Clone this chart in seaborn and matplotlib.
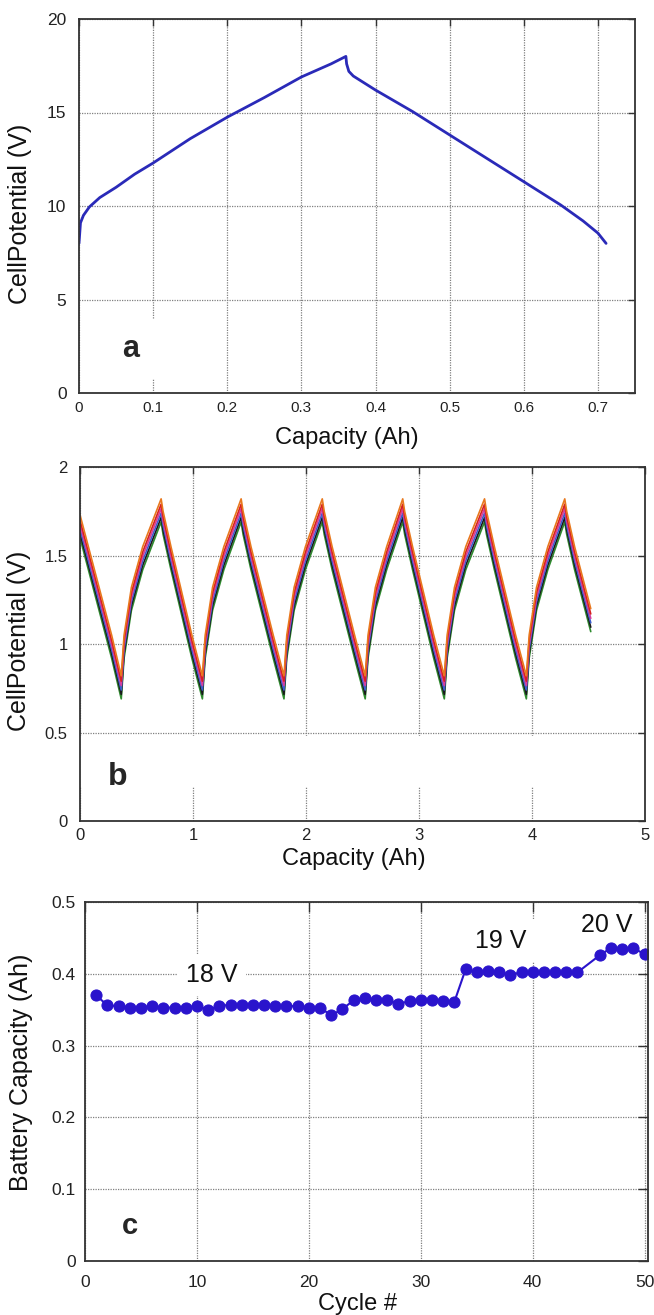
import numpy as np
import pandas as pd
import matplotlib
matplotlib.use("Agg")
import matplotlib.pyplot as plt
import seaborn as sns

# ---------------- data ----------------
# Panel a: single charge/discharge curve
cap_a = [0.000, 0.002, 0.006, 0.014, 0.028, 0.050, 0.075, 0.100, 0.150, 0.200,
         0.250, 0.300, 0.340, 0.360, 0.361, 0.364, 0.370, 0.400, 0.450, 0.500,
         0.550, 0.600, 0.650, 0.680, 0.700, 0.711]
volt_a = [8.0, 9.1, 9.5, 9.95, 10.45, 11.0, 11.7, 12.3, 13.6, 14.75,
          15.8, 16.9, 17.6, 18.0, 17.6, 17.2, 16.95, 16.2, 15.05, 13.8,
          12.55, 11.3, 10.05, 9.2, 8.55, 8.0]

# Panel b: repeated cycles (base trace) and offsets of the overlaid traces
cap_b = [0.000, 0.280, 0.365, 0.390, 0.455, 0.555, 0.718,
         0.735, 0.805, 0.990, 1.083, 1.108, 1.173, 1.273, 1.426,
         1.443, 1.513, 1.710, 1.805, 1.830, 1.895, 1.995, 2.144,
         2.161, 2.231, 2.430, 2.524, 2.549, 2.614, 2.714, 2.856,
         2.873, 2.943, 3.130, 3.224, 3.249, 3.314, 3.414, 3.580,
         3.597, 3.667, 3.855, 3.950, 3.975, 4.040, 4.140, 4.290,
         4.307, 4.377, 4.520]
volt_b = [1.68, 1.00, 0.77, 1.00, 1.27, 1.50, 1.77,
          1.70, 1.50, 1.00, 0.77, 1.00, 1.27, 1.50, 1.77,
          1.70, 1.50, 1.00, 0.77, 1.00, 1.27, 1.50, 1.77,
          1.70, 1.50, 1.00, 0.77, 1.00, 1.27, 1.50, 1.77,
          1.70, 1.50, 1.00, 0.77, 1.00, 1.27, 1.50, 1.77,
          1.70, 1.50, 1.00, 0.77, 1.00, 1.27, 1.50, 1.77,
          1.70, 1.50, 1.15]
trace_names = ["t1", "t2", "t3", "t4", "t5", "t6"]
trace_shift = [-0.08, -0.055, -0.03, -0.005, 0.02, 0.05]
trace_colors = ["#2e8b2e", "#1a1a1a", "#3a5fcd", "#d43fa0", "#d62020", "#e8781e"]

# Panel c: battery capacity per cycle
cycles_c = list(range(1, 45)) + [46, 47, 48, 49, 50]
capacity_c = [0.370, 0.356, 0.355, 0.353, 0.353, 0.355, 0.353, 0.353, 0.353, 0.355,
              0.350, 0.355, 0.357, 0.357, 0.357, 0.357, 0.355, 0.355, 0.355, 0.353,
              0.353, 0.342, 0.351, 0.363, 0.366, 0.364, 0.364, 0.358, 0.362, 0.364,
              0.364, 0.362, 0.361, 0.406, 0.402, 0.404, 0.402, 0.399, 0.402, 0.402,
              0.402, 0.402, 0.402, 0.402,
              0.426, 0.436, 0.435, 0.436, 0.427]
volt_labels = ["18 V", "19 V", "20 V"]
volt_label_x = [11.3, 37.1, 46.6]
volt_label_y = [0.398, 0.446, 0.468]

# ---------------- style ----------------
sns.set_theme(style="white")
plt.rcParams["font.family"] = ["Liberation Sans", "DejaVu Sans"]
plt.rcParams["axes.edgecolor"] = "#333333"
plt.rcParams["axes.linewidth"] = 1.3

fig = plt.figure(figsize=(6.54, 13.15), dpi=100)
fig.patch.set_facecolor("white")

W, H = 654.0, 1315.0
def add_ax(l, t, r, b):
    return fig.add_axes([l / W, 1 - b / H, (r - l) / W, (b - t) / H])

ax_a = add_ax(79, 19, 635, 393)
ax_b = add_ax(80, 467, 645, 821)
ax_c = add_ax(85, 902, 648, 1261)

def style_axes(ax, xfs, yfs, xpad, ypad, tlen):
    ax.set_axisbelow(True)
    ax.grid(True, linestyle=(0, (1, 1)), color="#808080", linewidth=0.9)
    ax.tick_params(direction="in", top=True, right=True, length=tlen, width=1.0,
                   color="#333333", labelcolor="#222222")
    ax.tick_params(axis="x", pad=xpad, labelsize=xfs)
    ax.tick_params(axis="y", pad=ypad, labelsize=yfs)
    for s in ax.spines.values():
        s.set_visible(True)
        s.set_color("#333333")
        s.set_linewidth(1.3)

# ---------------- panel a ----------------
df_a = pd.DataFrame({"cap": cap_a, "volt": volt_a})
sns.lineplot(data=df_a, x="cap", y="volt", ax=ax_a, color="#2a2ab8", linewidth=2.0,
             estimator=None, sort=False)
ax_a.set_xlim(0, 0.75)
ax_a.set_ylim(0, 20)
ax_a.set_xticks([0, 0.1, 0.2, 0.3, 0.4, 0.5, 0.6, 0.7])
ax_a.set_xticklabels(["0", "0.1", "0.2", "0.3", "0.4", "0.5", "0.6", "0.7"])
ax_a.set_yticks([0, 5, 10, 15, 20])
style_axes(ax_a, 11, 12.5, 6, 9, 5)
ax_a.set_xlabel("Capacity (Ah)", fontsize=17, color="#111111")
ax_a.set_ylabel("CellPotential (V)", fontsize=18, color="#111111")
ax_a.xaxis.set_label_coords(0.482, -0.091)
ax_a.yaxis.set_label_coords(-0.085, 0.479)
ax_a.text(0.070, 2.35, "a", fontsize=22, fontweight="bold", ha="center", va="center",
          bbox=dict(facecolor="white", edgecolor="none", boxstyle="square,pad=0.5"))

# ---------------- panel b ----------------
rows = []
for name, dy in zip(trace_names, trace_shift):
    for xv, yv in zip(cap_b, volt_b):
        rows.append((name, xv, yv + dy))
df_b = pd.DataFrame(rows, columns=["trace", "cap", "volt"])
sns.lineplot(data=df_b, x="cap", y="volt", hue="trace", palette=trace_colors,
             ax=ax_b, linewidth=1.2, estimator=None, sort=False, legend=False)
ax_b.set_xlim(0, 5)
ax_b.set_ylim(0, 2)
ax_b.set_xticks([0, 1, 2, 3, 4, 5])
ax_b.set_yticks([0, 0.5, 1, 1.5, 2])
ax_b.set_yticklabels(["0", "0.5", "1", "1.5", "2"])
style_axes(ax_b, 12, 12, 5, 9, 5)
ax_b.axhspan(0.19, 0.48, color="white", zorder=0.8, linewidth=0)
ax_b.set_xlabel("Capacity (Ah)", fontsize=17, color="#111111")
ax_b.set_ylabel("CellPotential (V)", fontsize=18, color="#111111")
ax_b.xaxis.set_label_coords(0.485, -0.076)
ax_b.yaxis.set_label_coords(-0.087, 0.508)
ax_b.text(0.33, 0.25, "b", fontsize=23, fontweight="bold", ha="center", va="center")

# ---------------- panel c ----------------
df_c = pd.DataFrame({"cycle": cycles_c, "cap": capacity_c})
sns.lineplot(data=df_c, x="cycle", y="cap", ax=ax_c, color="#2a14cc", linewidth=1.5,
             marker="o", markersize=8, markeredgecolor="#2a14cc", estimator=None)
ax_c.set_xlim(0, 50.3)
ax_c.set_ylim(0, 0.5)
ax_c.set_xticks([0, 10, 20, 30, 40, 50])
ax_c.set_yticks([0, 0.1, 0.2, 0.3, 0.4, 0.5])
ax_c.set_yticklabels(["0", "0.1", "0.2", "0.3", "0.4", "0.5"])
style_axes(ax_c, 12.5, 12.5, 10, 6.5, 7)
ax_c.set_xlabel("Cycle #", fontsize=17, color="#111111")
ax_c.set_ylabel("Battery Capacity (Ah)", fontsize=18, color="#111111")
ax_c.xaxis.set_label_coords(0.485, -0.088)
ax_c.yaxis.set_label_coords(-0.093, 0.526)
for lbl, xv, yv in zip(volt_labels, volt_label_x, volt_label_y):
    ax_c.text(xv, yv, lbl, fontsize=18, ha="center", va="center", color="#111111",
              bbox=dict(facecolor="white", edgecolor="none", boxstyle="square,pad=0.35"),
              zorder=1)
ax_c.text(4.05, 0.049, "c", fontsize=21, fontweight="bold", ha="center", va="center")

fig.savefig("out.png", dpi=100, facecolor="white")
